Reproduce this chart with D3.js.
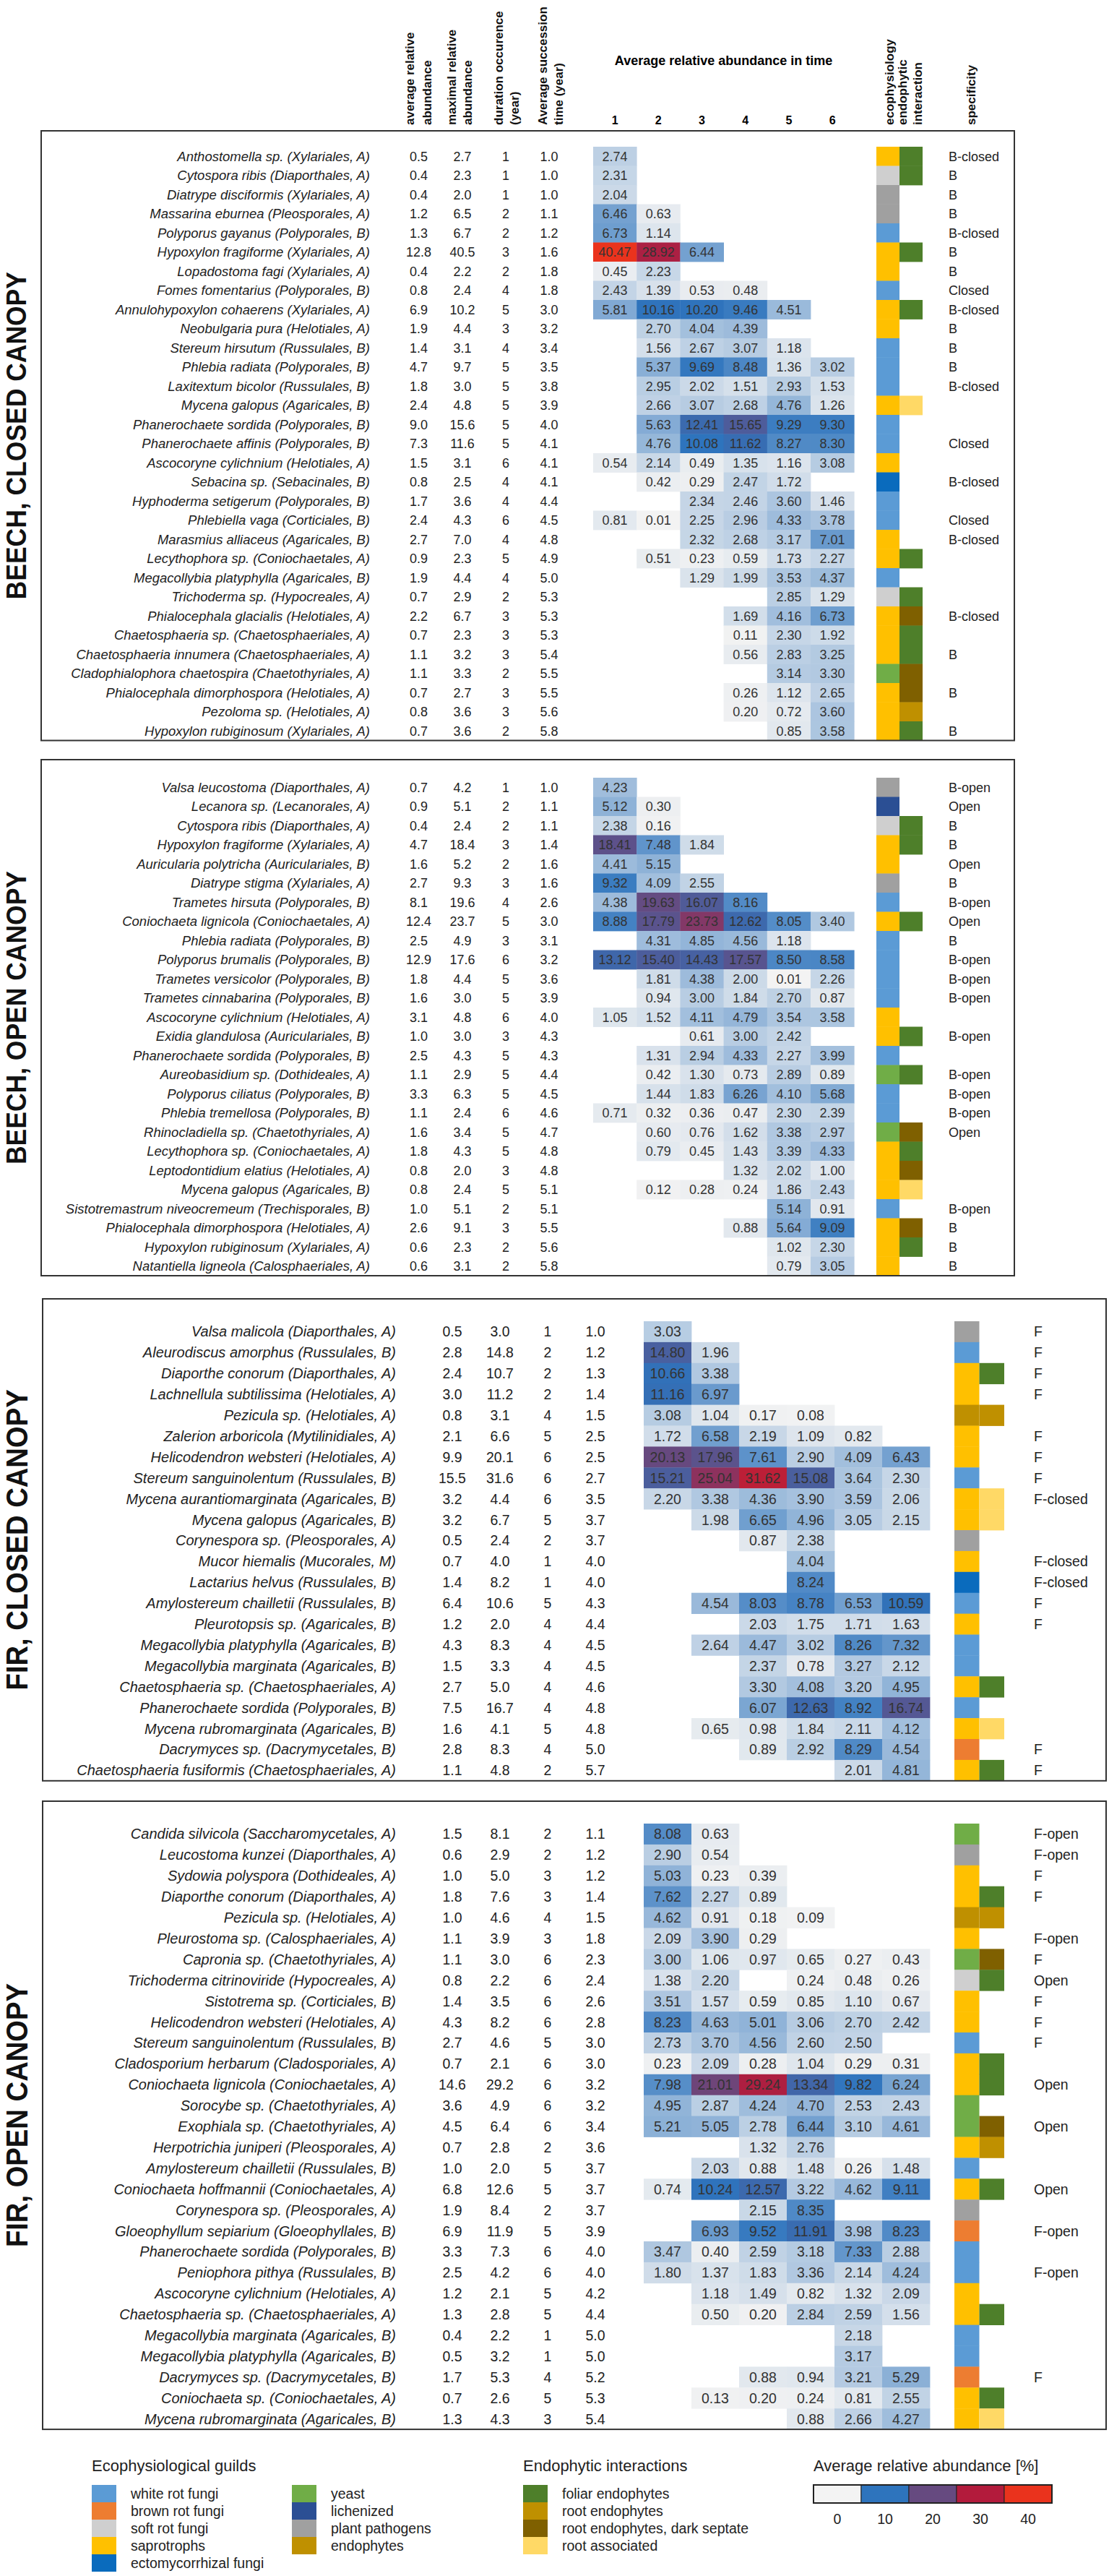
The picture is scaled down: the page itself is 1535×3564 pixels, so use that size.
<!DOCTYPE html>
<html>
<head>
<meta charset="utf-8">
<script src="https://cdn.jsdelivr.net/npm/d3@7"></script>
<style>
  body { margin: 0; background: #fff; }
  text { font-family: "Liberation Sans", Arial, Helvetica, sans-serif; }
</style>
</head>
<body>
<div id="chart"></div>
<script>
var _ = null;

var timeSteps = [1, 2, 3, 4, 5, 6];
var abundTicks = [0, 10, 20, 30, 40];
var abundColors = ['#f3f3f3', '#2e74bd', '#664a80', '#b31b3c', '#ea331d'];

var guildKeys = ['white', 'brown', 'soft', 'sapro', 'ecto', 'yeast', 'lichen', 'path', 'endo'];
var guildLabels = ['white rot fungi', 'brown rot fungi', 'soft rot fungi', 'saprotrophs', 'ectomycorrhizal fungi',
                   'yeast', 'lichenized', 'plant pathogens', 'endophytes'];
var guildColors = ['#5b9bd5', '#ed7d31', '#cfcfcf', '#ffc000', '#0a6bbd', '#70ad47', '#2b4f94', '#a0a0a0', '#bf9000'];

var endoKeys = ['F', 'R', 'D', 'A'];
var endoLabels = ['foliar endophytes', 'root endophytes', 'root endophytes, dark septate', 'root associated'];
var endoColors = ['#4e7f2a', '#bf9000', '#7f6000', '#ffd966'];

var headerLabels = [['average relative', 'abundance'], ['maximal relative', 'abundance'], ['duration occurence', '(year)'],
                    ['Average succession', 'time (year)'], ['ecophysiology'], ['endophytic', 'interaction'], ['specificity']];
var timeTitle = 'Average relative abundance in time';

// ---- BEECH, CLOSED CANOPY
var bcNames = ['Anthostomella sp. (Xylariales, A)', 'Cytospora ribis (Diaporthales, A)', 'Diatrype disciformis (Xylariales, A)',
  'Massarina eburnea (Pleosporales, A)', 'Polyporus gayanus (Polyporales, B)', 'Hypoxylon fragiforme (Xylariales, A)',
  'Lopadostoma fagi (Xylariales, A)', 'Fomes fomentarius (Polyporales, B)', 'Annulohypoxylon cohaerens (Xylariales, A)',
  'Neobulgaria pura (Helotiales, A)', 'Stereum hirsutum (Russulales, B)', 'Phlebia radiata (Polyporales, B)',
  'Laxitextum bicolor (Russulales, B)', 'Mycena galopus (Agaricales, B)', 'Phanerochaete sordida (Polyporales, B)',
  'Phanerochaete affinis (Polyporales, B)', 'Ascocoryne cylichnium (Helotiales, A)', 'Sebacina sp. (Sebacinales, B)',
  'Hyphoderma setigerum (Polyporales, B)', 'Phlebiella vaga (Corticiales, B)', 'Marasmius alliaceus (Agaricales, B)',
  'Lecythophora sp. (Coniochaetales, A)', 'Megacollybia platyphylla (Agaricales, B)', 'Trichoderma sp. (Hypocreales, A)',
  'Phialocephala glacialis (Helotiales, A)', 'Chaetosphaeria sp. (Chaetosphaeriales, A)', 'Chaetosphaeria innumera (Chaetosphaeriales, A)',
  'Cladophialophora chaetospira (Chaetothyriales, A)', 'Phialocephala dimorphospora (Helotiales, A)', 'Pezoloma sp. (Helotiales, A)',
  'Hypoxylon rubiginosum (Xylariales, A)'];
var bcAvg = [0.5, 0.4, 0.4, 1.2, 1.3, 12.8, 0.4, 0.8, 6.9, 1.9, 1.4, 4.7, 1.8, 2.4, 9.0, 7.3, 1.5, 0.8, 1.7, 2.4, 2.7, 0.9, 1.9, 0.7, 2.2, 0.7, 1.1, 1.1, 0.7, 0.8, 0.7];
var bcMax = [2.7, 2.3, 2.0, 6.5, 6.7, 40.5, 2.2, 2.4, 10.2, 4.4, 3.1, 9.7, 3.0, 4.8, 15.6, 11.6, 3.1, 2.5, 3.6, 4.3, 7.0, 2.3, 4.4, 2.9, 6.7, 2.3, 3.2, 3.3, 2.7, 3.6, 3.6];
var bcDur = [1, 1, 1, 2, 2, 3, 2, 4, 5, 3, 4, 5, 5, 5, 5, 5, 6, 4, 4, 6, 4, 5, 4, 2, 3, 3, 3, 2, 3, 3, 2];
var bcSucc = [1.0, 1.0, 1.0, 1.1, 1.2, 1.6, 1.8, 1.8, 3.0, 3.2, 3.4, 3.5, 3.8, 3.9, 4.0, 4.1, 4.1, 4.1, 4.4, 4.5, 4.8, 4.9, 5.0, 5.3, 5.3, 5.3, 5.4, 5.5, 5.5, 5.6, 5.8];
var bcTime = [
  [2.74, _, _, _, _, _], [2.31, _, _, _, _, _], [2.04, _, _, _, _, _], [6.46, 0.63, _, _, _, _],
  [6.73, 1.14, _, _, _, _], [40.47, 28.92, 6.44, _, _, _], [0.45, 2.23, _, _, _, _], [2.43, 1.39, 0.53, 0.48, _, _],
  [5.81, 10.16, 10.20, 9.46, 4.51, _], [_, 2.70, 4.04, 4.39, _, _], [_, 1.56, 2.67, 3.07, 1.18, _], [_, 5.37, 9.69, 8.48, 1.36, 3.02],
  [_, 2.95, 2.02, 1.51, 2.93, 1.53], [_, 2.66, 3.07, 2.68, 4.76, 1.26], [_, 5.63, 12.41, 15.65, 9.29, 9.30], [_, 4.76, 10.08, 11.62, 8.27, 8.30],
  [0.54, 2.14, 0.49, 1.35, 1.16, 3.08], [_, 0.42, 0.29, 2.47, 1.72, _], [_, _, 2.34, 2.46, 3.60, 1.46], [0.81, 0.01, 2.25, 2.96, 4.33, 3.78],
  [_, _, 2.32, 2.68, 3.17, 7.01], [_, 0.51, 0.23, 0.59, 1.73, 2.27], [_, _, 1.29, 1.99, 3.53, 4.37], [_, _, _, _, 2.85, 1.29],
  [_, _, _, 1.69, 4.16, 6.73], [_, _, _, 0.11, 2.30, 1.92], [_, _, _, 0.56, 2.83, 3.25], [_, _, _, _, 3.14, 3.30],
  [_, _, _, 0.26, 1.12, 2.65], [_, _, _, 0.20, 0.72, 3.60], [_, _, _, _, 0.85, 3.58]];
var bcEco = ['sapro', 'soft', 'path', 'path', 'white', 'sapro', 'sapro', 'white', 'sapro', 'sapro', 'white', 'white', 'white', 'sapro', 'white', 'white',
  'sapro', 'ecto', 'white', 'white', 'sapro', 'sapro', 'white', 'soft', 'sapro', 'sapro', 'sapro', 'yeast', 'sapro', 'sapro', 'sapro'];
var bcEndo = ['F', 'F', '', '', '', 'F', '', '', 'F', '', '', '', '', 'A', '', '', '', '', '', '', '', 'F', '', 'F', 'D', 'F', 'F', 'D', 'D', 'R', 'F'];
var bcSpec = ['B-closed', 'B', 'B', 'B', 'B-closed', 'B', 'B', 'Closed', 'B-closed', 'B', 'B', 'B', 'B-closed', '', '', 'Closed',
  '', 'B-closed', '', 'Closed', 'B-closed', '', '', '', 'B-closed', '', 'B', '', 'B', '', 'B'];

// ---- BEECH, OPEN CANOPY
var boNames = ['Valsa leucostoma (Diaporthales, A)', 'Lecanora sp. (Lecanorales, A)', 'Cytospora ribis (Diaporthales, A)',
  'Hypoxylon fragiforme (Xylariales, A)', 'Auricularia polytricha (Auriculariales, B)', 'Diatrype stigma (Xylariales, A)',
  'Trametes hirsuta (Polyporales, B)', 'Coniochaeta lignicola (Coniochaetales, A)', 'Phlebia radiata (Polyporales, B)',
  'Polyporus brumalis (Polyporales, B)', 'Trametes versicolor (Polyporales, B)', 'Trametes cinnabarina (Polyporales, B)',
  'Ascocoryne cylichnium (Helotiales, A)', 'Exidia glandulosa (Auriculariales, B)', 'Phanerochaete sordida (Polyporales, B)',
  'Aureobasidium sp. (Dothideales, A)', 'Polyporus ciliatus (Polyporales, B)', 'Phlebia tremellosa (Polyporales, B)',
  'Rhinocladiella sp. (Chaetothyriales, A)', 'Lecythophora sp. (Coniochaetales, A)', 'Leptodontidium elatius (Helotiales, A)',
  'Mycena galopus (Agaricales, B)', 'Sistotremastrum niveocremeum (Trechisporales, B)', 'Phialocephala dimorphospora (Helotiales, A)',
  'Hypoxylon rubiginosum (Xylariales, A)', 'Natantiella ligneola (Calosphaeriales, A)'];
var boAvg = [0.7, 0.9, 0.4, 4.7, 1.6, 2.7, 8.1, 12.4, 2.5, 12.9, 1.8, 1.6, 3.1, 1.0, 2.5, 1.1, 3.3, 1.1, 1.6, 1.8, 0.8, 0.8, 1.0, 2.6, 0.6, 0.6];
var boMax = [4.2, 5.1, 2.4, 18.4, 5.2, 9.3, 19.6, 23.7, 4.9, 17.6, 4.4, 3.0, 4.8, 3.0, 4.3, 2.9, 6.3, 2.4, 3.4, 4.3, 2.0, 2.4, 5.1, 9.1, 2.3, 3.1];
var boDur = [1, 2, 2, 3, 2, 3, 4, 5, 3, 6, 5, 5, 6, 3, 5, 5, 5, 6, 5, 5, 3, 5, 2, 3, 2, 2];
var boSucc = [1.0, 1.1, 1.1, 1.4, 1.6, 1.6, 2.6, 3.0, 3.1, 3.2, 3.6, 3.9, 4.0, 4.3, 4.3, 4.4, 4.5, 4.6, 4.7, 4.8, 4.8, 5.1, 5.1, 5.5, 5.6, 5.8];
var boTime = [
  [4.23, _, _, _, _, _], [5.12, 0.30, _, _, _, _], [2.38, 0.16, _, _, _, _], [18.41, 7.48, 1.84, _, _, _],
  [4.41, 5.15, _, _, _, _], [9.32, 4.09, 2.55, _, _, _], [4.38, 19.63, 16.07, 8.16, _, _], [8.88, 17.79, 23.73, 12.62, 8.05, 3.40],
  [_, 4.31, 4.85, 4.56, 1.18, _], [13.12, 15.40, 14.43, 17.57, 8.50, 8.58], [_, 1.81, 4.38, 2.00, 0.01, 2.26], [_, 0.94, 3.00, 1.84, 2.70, 0.87],
  [1.05, 1.52, 4.11, 4.79, 3.54, 3.58], [_, _, 0.61, 3.00, 2.42, _], [_, 1.31, 2.94, 4.33, 2.27, 3.99], [_, 0.42, 1.30, 0.73, 2.89, 0.89],
  [_, 1.44, 1.83, 6.26, 4.10, 5.68], [0.71, 0.32, 0.36, 0.47, 2.30, 2.39], [_, 0.60, 0.76, 1.62, 3.38, 2.97], [_, 0.79, 0.45, 1.43, 3.39, 4.33],
  [_, _, _, 1.32, 2.02, 1.00], [_, 0.12, 0.28, 0.24, 1.86, 2.43], [_, _, _, _, 5.14, 0.91], [_, _, _, 0.88, 5.64, 9.09],
  [_, _, _, _, 1.02, 2.30], [_, _, _, _, 0.79, 3.05]];
var boEco = ['path', 'lichen', 'soft', 'sapro', 'sapro', 'path', 'white', 'sapro', 'white', 'white', 'white', 'white', 'sapro',
  'sapro', 'white', 'yeast', 'white', 'white', 'yeast', 'sapro', 'sapro', 'sapro', 'white', 'sapro', 'sapro', 'sapro'];
var boEndo = ['', '', 'F', 'F', '', '', '', 'F', '', '', '', '', '', 'F', '', 'F', '', '', 'D', 'F', 'D', 'A', '', 'D', 'F', ''];
var boSpec = ['B-open', 'Open', 'B', 'B', 'Open', 'B', 'B-open', 'Open', 'B', 'B-open', 'B-open', 'B-open', '', 'B-open', '',
  'B-open', 'B-open', 'B-open', 'Open', '', '', '', 'B-open', 'B', 'B', 'B'];

// ---- FIR, CLOSED CANOPY
var fcNames = ['Valsa malicola (Diaporthales, A)', 'Aleurodiscus amorphus (Russulales, B)', 'Diaporthe conorum (Diaporthales, A)',
  'Lachnellula subtilissima (Helotiales, A)', 'Pezicula sp. (Helotiales, A)', 'Zalerion arboricola (Mytilinidiales, A)',
  'Helicodendron websteri (Helotiales, A)', 'Stereum sanguinolentum (Russulales, B)', 'Mycena aurantiomarginata (Agaricales, B)',
  'Mycena galopus (Agaricales, B)', 'Corynespora sp. (Pleosporales, A)', 'Mucor hiemalis (Mucorales, M)',
  'Lactarius helvus (Russulales, B)', 'Amylostereum chailletii (Russulales, B)', 'Pleurotopsis sp. (Agaricales, B)',
  'Megacollybia platyphylla (Agaricales, B)', 'Megacollybia marginata (Agaricales, B)', 'Chaetosphaeria sp. (Chaetosphaeriales, A)',
  'Phanerochaete sordida (Polyporales, B)', 'Mycena rubromarginata (Agaricales, B)', 'Dacrymyces sp. (Dacrymycetales, B)',
  'Chaetosphaeria fusiformis (Chaetosphaeriales, A)'];
var fcAvg = [0.5, 2.8, 2.4, 3.0, 0.8, 2.1, 9.9, 15.5, 3.2, 3.2, 0.5, 0.7, 1.4, 6.4, 1.2, 4.3, 1.5, 2.7, 7.5, 1.6, 2.8, 1.1];
var fcMax = [3.0, 14.8, 10.7, 11.2, 3.1, 6.6, 20.1, 31.6, 4.4, 6.7, 2.4, 4.0, 8.2, 10.6, 2.0, 8.3, 3.3, 5.0, 16.7, 4.1, 8.3, 4.8];
var fcDur = [1, 2, 2, 2, 4, 5, 6, 6, 6, 5, 2, 1, 1, 5, 4, 4, 4, 4, 4, 5, 4, 2];
var fcSucc = [1.0, 1.2, 1.3, 1.4, 1.5, 2.5, 2.5, 2.7, 3.5, 3.7, 3.7, 4.0, 4.0, 4.3, 4.4, 4.5, 4.5, 4.6, 4.8, 4.8, 5.0, 5.7];
var fcTime = [
  [3.03, _, _, _, _, _], [14.80, 1.96, _, _, _, _], [10.66, 3.38, _, _, _, _], [11.16, 6.97, _, _, _, _],
  [3.08, 1.04, 0.17, 0.08, _, _], [1.72, 6.58, 2.19, 1.09, 0.82, _], [20.13, 17.96, 7.61, 2.90, 4.09, 6.43], [15.21, 25.04, 31.62, 15.08, 3.64, 2.30],
  [2.20, 3.38, 4.36, 3.90, 3.59, 2.06], [_, 1.98, 6.65, 4.96, 3.05, 2.15], [_, _, 0.87, 2.38, _, _], [_, _, _, 4.04, _, _],
  [_, _, _, 8.24, _, _], [_, 4.54, 8.03, 8.78, 6.53, 10.59], [_, _, 2.03, 1.75, 1.71, 1.63], [_, 2.64, 4.47, 3.02, 8.26, 7.32],
  [_, _, 2.37, 0.78, 3.27, 2.12], [_, _, 3.30, 4.08, 3.20, 4.95], [_, _, 6.07, 12.63, 8.92, 16.74], [_, 0.65, 0.98, 1.84, 2.11, 4.12],
  [_, _, 0.89, 2.92, 8.29, 4.54], [_, _, _, _, 2.01, 4.81]];
var fcEco = ['path', 'white', 'sapro', 'sapro', 'endo', 'sapro', 'sapro', 'white', 'sapro', 'sapro', 'path', 'sapro', 'ecto',
  'white', 'sapro', 'white', 'white', 'sapro', 'white', 'sapro', 'brown', 'sapro'];
var fcEndo = ['', '', 'F', '', 'R', '', '', '', 'A', 'A', '', '', '', '', '', '', '', 'F', '', 'A', '', 'F'];
var fcSpec = ['F', 'F', 'F', 'F', '', 'F', 'F', 'F', 'F-closed', '', '', 'F-closed', 'F-closed', 'F', 'F', '', '', '', '', '', 'F', 'F'];

// ---- FIR, OPEN CANOPY
var foNames = ['Candida silvicola (Saccharomycetales, A)', 'Leucostoma kunzei (Diaporthales, A)', 'Sydowia polyspora (Dothideales, A)',
  'Diaporthe conorum (Diaporthales, A)', 'Pezicula sp. (Helotiales, A)', 'Pleurostoma sp. (Calosphaeriales, A)',
  'Capronia sp. (Chaetothyriales, A)', 'Trichoderma citrinoviride (Hypocreales, A)', 'Sistotrema sp. (Corticiales, B)',
  'Helicodendron websteri (Helotiales, A)', 'Stereum sanguinolentum (Russulales, B)', 'Cladosporium herbarum (Cladosporiales, A)',
  'Coniochaeta lignicola (Coniochaetales, A)', 'Sorocybe sp. (Chaetothyriales, A)', 'Exophiala sp. (Chaetothyriales, A)',
  'Herpotrichia juniperi (Pleosporales, A)', 'Amylostereum chailletii (Russulales, B)', 'Coniochaeta hoffmannii (Coniochaetales, A)',
  'Corynespora sp. (Pleosporales, A)', 'Gloeophyllum sepiarium (Gloeophyllales, B)', 'Phanerochaete sordida (Polyporales, B)',
  'Peniophora pithya (Russulales, B)', 'Ascocoryne cylichnium (Helotiales, A)', 'Chaetosphaeria sp. (Chaetosphaeriales, A)',
  'Megacollybia marginata (Agaricales, B)', 'Megacollybia platyphylla (Agaricales, B)', 'Dacrymyces sp. (Dacrymycetales, B)',
  'Coniochaeta sp. (Coniochaetales, A)', 'Mycena rubromarginata (Agaricales, B)'];
var foAvg = [1.5, 0.6, 1.0, 1.8, 1.0, 1.1, 1.1, 0.8, 1.4, 4.3, 2.7, 0.7, 14.6, 3.6, 4.5, 0.7, 1.0, 6.8, 1.9, 6.9, 3.3, 2.5, 1.2, 1.3, 0.4, 0.5, 1.7, 0.7, 1.3];
var foMax = [8.1, 2.9, 5.0, 7.6, 4.6, 3.9, 3.0, 2.2, 3.5, 8.2, 4.6, 2.1, 29.2, 4.9, 6.4, 2.8, 2.0, 12.6, 8.4, 11.9, 7.3, 4.2, 2.1, 2.8, 2.2, 3.2, 5.3, 2.6, 4.3];
var foDur = [2, 2, 3, 3, 4, 3, 6, 6, 6, 6, 5, 6, 6, 6, 6, 2, 5, 5, 2, 5, 6, 6, 5, 5, 1, 1, 4, 5, 3];
var foSucc = [1.1, 1.2, 1.2, 1.4, 1.5, 1.8, 2.3, 2.4, 2.6, 2.8, 3.0, 3.0, 3.2, 3.2, 3.4, 3.6, 3.7, 3.7, 3.7, 3.9, 4.0, 4.0, 4.2, 4.4, 5.0, 5.0, 5.2, 5.3, 5.4];
var foTime = [
  [8.08, 0.63, _, _, _, _], [2.90, 0.54, _, _, _, _], [5.03, 0.23, 0.39, _, _, _], [7.62, 2.27, 0.89, _, _, _],
  [4.62, 0.91, 0.18, 0.09, _, _], [2.09, 3.90, 0.29, _, _, _], [3.00, 1.06, 0.97, 0.65, 0.27, 0.43], [1.38, 2.20, _, 0.24, 0.48, 0.26],
  [3.51, 1.57, 0.59, 0.85, 1.10, 0.67], [8.23, 4.63, 5.01, 3.06, 2.70, 2.42], [2.73, 3.70, 4.56, 2.60, 2.50, _], [0.23, 2.09, 0.28, 1.04, 0.29, 0.31],
  [7.98, 21.01, 29.24, 13.34, 9.82, 6.24], [4.95, 2.87, 4.24, 4.70, 2.53, 2.43], [5.21, 5.05, 2.78, 6.44, 3.10, 4.61], [_, _, 1.32, 2.76, _, _],
  [_, 2.03, 0.88, 1.48, 0.26, 1.48], [0.74, 10.24, 12.57, 3.22, 4.62, 9.11], [_, _, 2.15, 8.35, _, _], [_, 6.93, 9.52, 11.91, 3.98, 8.23],
  [3.47, 0.40, 2.59, 3.18, 7.33, 2.88], [1.80, 1.37, 1.83, 3.36, 2.14, 4.24], [_, 1.18, 1.49, 0.82, 1.32, 2.09], [_, 0.50, 0.20, 2.84, 2.59, 1.56],
  [_, _, _, _, 2.18, _], [_, _, _, _, 3.17, _], [_, _, 0.88, 0.94, 3.21, 5.29], [_, 0.13, 0.20, 0.24, 0.81, 2.55],
  [_, _, _, 0.88, 2.66, 4.27]];
var foEco = ['yeast', 'path', 'sapro', 'sapro', 'endo', 'sapro', 'yeast', 'soft', 'sapro', 'sapro', 'white', 'sapro', 'sapro', 'yeast',
  'yeast', 'sapro', 'white', 'sapro', 'path', 'brown', 'white', 'white', 'sapro', 'sapro', 'white', 'white', 'brown', 'sapro', 'sapro'];
var foEndo = ['', '', '', 'F', 'R', '', 'D', 'F', '', '', '', 'F', 'F', '', 'D', 'R', '', 'F', '', '', '', '', '', 'F', '', '', '', 'F', 'A'];
var foSpec = ['F-open', 'F-open', 'F', 'F', '', 'F-open', 'F', 'Open', 'F', 'F', 'F', '', 'Open', '', 'Open', '', '', 'Open', '',
  'F-open', '', 'F-open', '', '', '', '', 'F', '', ''];


// layouts: the fir blocks are drawn a bit larger than the beech ones
var layouts = {
  beech: {left: 57, right: 1404, nameX: 512, numX: [579.5, 640, 700, 760], heatLeft: 821, cellW: 60.2,
          ecoX: 1213, ecoW: 32, specX: 1313, pitch: 26.5, fs: 18, nameFs: 18.5, titleX: 36, titleFs: 39},
  fir:   {left: 59, right: 1531, nameX: 548, numX: [626, 692, 758, 824], heatLeft: 891, cellW: 66,
          ecoX: 1321, ecoW: 34.5, specX: 1431, pitch: 28.9, fs: 19.5, nameFs: 20, titleX: 38, titleFs: 42}
};

var panels = [
  {title: 'BEECH, CLOSED CANOPY', names: bcNames, avg: bcAvg, max: bcMax, dur: bcDur, succ: bcSucc, time: bcTime,
   eco: bcEco, endo: bcEndo, spec: bcSpec, lay: 'beech', rowTop: 203, pad: 22},
  {title: 'BEECH, OPEN CANOPY', names: boNames, avg: boAvg, max: boMax, dur: boDur, succ: boSucc, time: boTime,
   eco: boEco, endo: boEndo, spec: boSpec, lay: 'beech', rowTop: 1076, pad: 25},
  {title: 'FIR, CLOSED CANOPY', names: fcNames, avg: fcAvg, max: fcMax, dur: fcDur, succ: fcSucc, time: fcTime,
   eco: fcEco, endo: fcEndo, spec: fcSpec, lay: 'fir', rowTop: 1828, pad: 31},
  {title: 'FIR, OPEN CANOPY', names: foNames, avg: foAvg, max: foMax, dur: foDur, succ: foSucc, time: foTime,
   eco: foEco, endo: foEndo, spec: foSpec, lay: 'fir', rowTop: 2523, pad: 31}
];

var W = 1535, H = 3564;
var svg = d3.select('#chart').append('svg').attr('width', W).attr('height', H);
svg.append('rect').attr('width', W).attr('height', H).attr('fill', '#fff');

var heatColor = d3.scaleLinear().domain(abundTicks).range(abundColors).interpolate(d3.interpolateRgb).clamp(true);
var guildColor = d3.scaleOrdinal().domain(guildKeys).range(guildColors);
var endoColor = d3.scaleOrdinal().domain(endoKeys).range(endoColors);

drawHeader();
panels.forEach(drawPanel);
drawLegend();


function drawHeader(){
  var L = layouts.beech;
  var x = d3.scaleBand().domain(timeSteps).range([L.heatLeft, L.heatLeft + 6 * L.cellW]);
  var g = svg.append('g').attr('class', 'header');

  // baselines of each rotated line
  var lineX = [[573, 597], [631, 653], [696, 718], [757, 779], [1237], [1255, 1276], [1350]];
  headerLabels.forEach(function(lines, k){
    lines.forEach(function(t, j){
      g.append('text')
        .attr('transform', 'translate(' + lineX[k][j] + ',173) rotate(-90)')
        .style('font-size', '17px')
        .style('font-weight', 'bold')
        .style('fill', '#111')
        .text(t);
    });
  });

  g.append('text')
    .attr('x', x(1) + 3 * L.cellW)
    .attr('y', 90)
    .style('text-anchor', 'middle')
    .style('font-size', '18px')
    .style('font-weight', 'bold')
    .text(timeTitle);

  g.selectAll('text.step')
    .data(timeSteps)
    .enter()
    .append('text')
    .attr('class', 'step')
    .attr('x', function(d){ return x(d) + x.bandwidth() / 2; })
    .attr('y', 172)
    .style('text-anchor', 'middle')
    .style('font-size', '16px')
    .style('font-weight', 'bold')
    .text(function(d){ return d; });
}


function drawPanel(p){
  var L = layouts[p.lay];
  var n = p.names.length;
  var y = d3.scaleBand().domain(d3.range(n)).range([p.rowTop, p.rowTop + n * L.pitch]);
  var x = d3.scaleBand().domain(timeSteps).range([L.heatLeft, L.heatLeft + 6 * L.cellW]);
  var top = p.rowTop - p.pad, bottom = p.rowTop + n * L.pitch;
  var g = svg.append('g').attr('class', 'panel');
  var midY = function(i){ return y(i) + y.bandwidth() / 2; };

  // heat cells
  var cells = [];
  p.time.forEach(function(row, i){
    row.forEach(function(v, j){ if (v != null) cells.push({i: i, t: timeSteps[j], v: v}); });
  });
  g.selectAll('rect.cell')
    .data(cells)
    .enter()
    .append('rect')
    .attr('x', function(d){ return x(d.t); })
    .attr('y', function(d){ return y(d.i); })
    .attr('width', x.bandwidth() + 0.4)
    .attr('height', y.bandwidth() + 0.4)
    .attr('fill', function(d){ return heatColor(d.v); });
  g.selectAll('text.cell')
    .data(cells)
    .enter()
    .append('text')
    .attr('x', function(d){ return x(d.t) + x.bandwidth() / 2; })
    .attr('y', function(d){ return midY(d.i) + L.fs * 0.36; })
    .style('text-anchor', 'middle')
    .style('font-size', L.fs + 'px')
    .style('fill', '#333')
    .text(function(d){ return d.v.toFixed(2); });

  // guild / endophyte colour columns
  g.selectAll('rect.eco')
    .data(p.eco)
    .enter()
    .append('rect')
    .attr('x', L.ecoX)
    .attr('y', function(d, i){ return y(i); })
    .attr('width', L.ecoW)
    .attr('height', y.bandwidth() + 0.4)
    .attr('fill', function(d){ return guildColor(d); });
  g.selectAll('rect.endo')
    .data(p.endo.map(function(d, i){ return {k: d, i: i}; }).filter(function(d){ return d.k != ''; }))
    .enter()
    .append('rect')
    .attr('x', L.ecoX + L.ecoW)
    .attr('y', function(d){ return y(d.i); })
    .attr('width', L.ecoW)
    .attr('height', y.bandwidth() + 0.4)
    .attr('fill', function(d){ return endoColor(d.k); });

  // names
  g.selectAll('text.name')
    .data(p.names)
    .enter()
    .append('text')
    .attr('x', L.nameX)
    .attr('y', function(d, i){ return midY(i) + L.nameFs * 0.35; })
    .style('text-anchor', 'end')
    .style('font-style', 'italic')
    .style('font-size', L.nameFs + 'px')
    .style('fill', '#222')
    .text(function(d){ return d; });

  // numeric columns
  var cols = [
    {vals: p.avg, fmt: function(v){ return v.toFixed(1); }},
    {vals: p.max, fmt: function(v){ return v.toFixed(1); }},
    {vals: p.dur, fmt: function(v){ return String(v); }},
    {vals: p.succ, fmt: function(v){ return v.toFixed(1); }}
  ];
  cols.forEach(function(c, k){
    g.selectAll('text.num' + k)
      .data(c.vals)
      .enter()
      .append('text')
      .attr('x', L.numX[k])
      .attr('y', function(d, i){ return midY(i) + L.fs * 0.36; })
      .style('text-anchor', 'middle')
      .style('font-size', L.fs + 'px')
      .style('fill', '#222')
      .text(c.fmt);
  });

  // specificity
  g.selectAll('text.spec')
    .data(p.spec)
    .enter()
    .append('text')
    .attr('x', L.specX)
    .attr('y', function(d, i){ return midY(i) + L.fs * 0.36; })
    .style('font-size', L.fs + 'px')
    .style('fill', '#222')
    .text(function(d){ return d; });

  // frame and title
  g.append('rect')
    .attr('x', L.left)
    .attr('y', top)
    .attr('width', L.right - L.left)
    .attr('height', bottom - top)
    .attr('fill', 'none')
    .attr('stroke', '#333')
    .attr('stroke-width', 2);

  g.append('text')
    .attr('transform', 'translate(' + L.titleX + ',' + ((top + bottom) / 2) + ') rotate(-90) scale(0.91,1)')
    .style('text-anchor', 'middle')
    .style('font-size', L.titleFs + 'px')
    .style('font-weight', 'bold')
    .style('fill', '#111')
    .text(p.title);
}


function drawLegend(){
  var g = svg.append('g').attr('class', 'legend');
  var top = 3438, sh = 24, sw = 34;
  var titleY = 3419;

  function title(x, t){
    g.append('text').attr('x', x).attr('y', titleY)
      .style('font-size', '22px').style('fill', '#222').text(t);
  }
  function block(x, keys, labels, colorScale){
    g.selectAll(null)
      .data(keys)
      .enter()
      .append('rect')
      .attr('x', x)
      .attr('y', function(d, i){ return top + i * sh; })
      .attr('width', sw)
      .attr('height', sh)
      .attr('fill', function(d){ return colorScale(d); });
    g.selectAll(null)
      .data(labels)
      .enter()
      .append('text')
      .attr('x', x + 54)
      .attr('y', function(d, i){ return top + i * sh + sh / 2 + 7; })
      .style('font-size', '19.5px')
      .style('fill', '#222')
      .text(function(d){ return d; });
  }

  title(127, 'Ecophysiological guilds');
  block(127, guildKeys.slice(0, 5), guildLabels.slice(0, 5), guildColor);
  block(404, guildKeys.slice(5), guildLabels.slice(5), guildColor);

  title(724, 'Endophytic interactions');
  block(724, endoKeys, endoLabels, endoColor);

  title(1126, 'Average relative abundance [%]');
  var xb = d3.scaleBand().domain(abundTicks).range([1126, 1456]);
  g.selectAll('rect.scale')
    .data(abundTicks)
    .enter()
    .append('rect')
    .attr('x', function(d){ return xb(d); })
    .attr('y', top)
    .attr('width', xb.bandwidth())
    .attr('height', 25)
    .attr('fill', function(d){ return heatColor(d); })
    .attr('stroke', '#222')
    .attr('stroke-width', 1);
  g.append('rect')
    .attr('x', 1126).attr('y', top).attr('width', 330).attr('height', 25)
    .attr('fill', 'none').attr('stroke', '#222').attr('stroke-width', 2);
  g.selectAll('text.tick')
    .data(abundTicks)
    .enter()
    .append('text')
    .attr('x', function(d){ return xb(d) + xb.bandwidth() / 2; })
    .attr('y', 3492)
    .style('text-anchor', 'middle')
    .style('font-size', '19.5px')
    .style('fill', '#222')
    .text(function(d){ return d; });
}
</script>
</body>
</html>
